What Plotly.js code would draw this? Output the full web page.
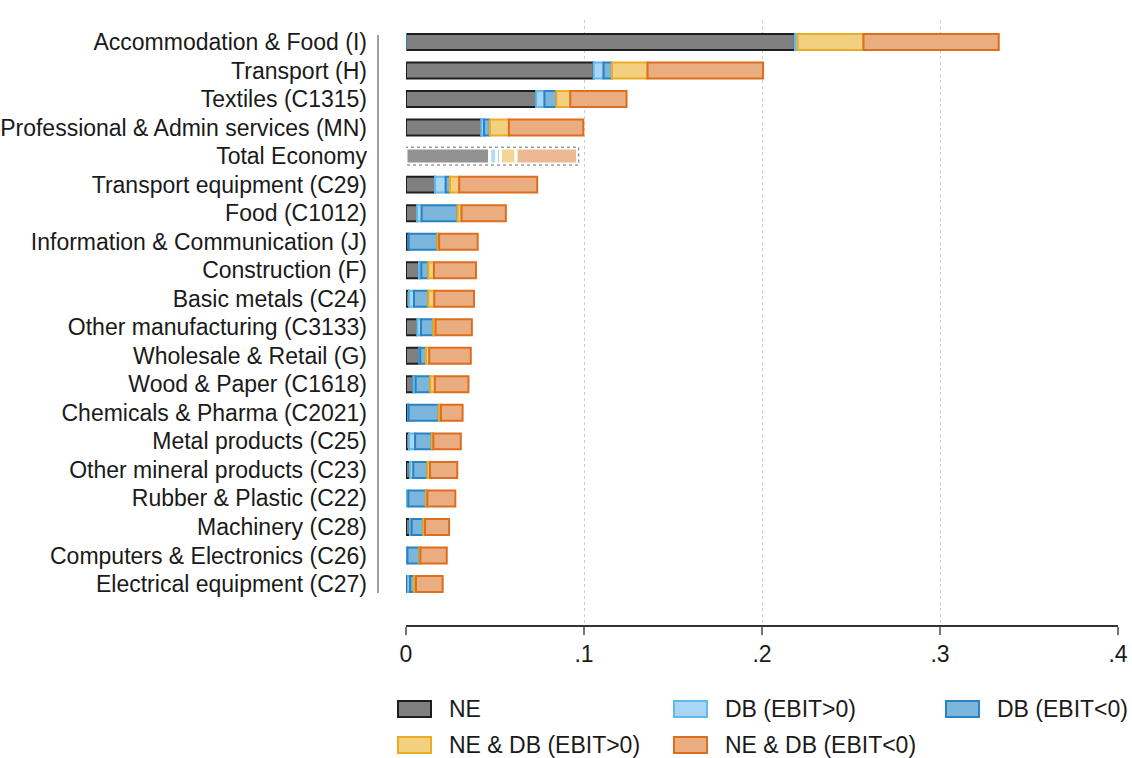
<!DOCTYPE html>
<html>
<head>
<meta charset="utf-8">
<script src="https://cdn.plot.ly/plotly-3.0.1.min.js"></script>
<style>html,body{margin:0;padding:0;background:#fff;}#chart{width:1132px;height:758px;}</style>
</head>
<body>
<div id="chart"></div>
<script>
const categories = [
  "Accommodation & Food (I)",
  "Transport (H)",
  "Textiles (C1315)",
  "Professional & Admin services (MN)",
  "Total Economy",
  "Transport equipment (C29)",
  "Food (C1012)",
  "Information & Communication (J)",
  "Construction (F)",
  "Basic metals (C24)",
  "Other manufacturing (C3133)",
  "Wholesale & Retail (G)",
  "Wood & Paper (C1618)",
  "Chemicals & Pharma (C2021)",
  "Metal products (C25)",
  "Other mineral products (C23)",
  "Rubber & Plastic (C22)",
  "Machinery (C28)",
  "Computers & Electronics (C26)",
  "Electrical equipment (C27)"
];
const NE        = [0.2185, 0.1054, 0.0731, 0.0422, 0.0470, 0.0163, 0.0062, 0.0015, 0.0073, 0.0017, 0.0063, 0.0075, 0.0041, 0.0012, 0.0017, 0.0022, 0.0000, 0.0022, 0.0000, 0.0008];
const DB_pos    = [0.0015, 0.0056, 0.0047, 0.0016, 0.0040, 0.0060, 0.0026, 0.0000, 0.0013, 0.0028, 0.0021, 0.0005, 0.0013, 0.0003, 0.0034, 0.0019, 0.0013, 0.0010, 0.0008, 0.0015];
const DB_neg    = [-0.0008, 0.0047, 0.0067, 0.0033, 0.0021, 0.0024, 0.0202, 0.0161, 0.0039, 0.0080, 0.0069, 0.0032, 0.0082, 0.0169, 0.0094, 0.0079, 0.0099, 0.0065, 0.0067, 0.0022];
const NEDB_pos  = [0.0370, 0.0200, 0.0078, 0.0107, 0.0087, 0.0052, 0.0022, 0.0010, 0.0032, 0.0034, 0.0013, 0.0019, 0.0026, 0.0012, 0.0009, 0.0015, 0.0008, 0.0010, 0.0006, 0.0011];
const NEDB_neg  = [0.0760, 0.0649, 0.0316, 0.0418, 0.0346, 0.0438, 0.0249, 0.0217, 0.0236, 0.0223, 0.0204, 0.0233, 0.0189, 0.0122, 0.0154, 0.0153, 0.0157, 0.0135, 0.0148, 0.0150];
const seriesNames = ["NE", "DB (EBIT>0)", "DB (EBIT<0)", "NE & DB (EBIT>0)", "NE & DB (EBIT<0)"];
const tickVals = [0, 0.1, 0.2, 0.3, 0.4];
const tickText = ["0", ".1", ".2", ".3", ".4"];

const seriesData = [NE, DB_pos, DB_neg, NEDB_pos, NEDB_neg];
const fills = ["#808080", "#a9d7f3", "#7db6dd", "#f2d07f", "#e9ad80"];
const lines = ["#1e1e1e", "#62b8ea", "#2783c3", "#ebac25", "#de6e1f"];
const totalIdx = categories.indexOf("Total Economy");

const traces = seriesData.map((vals, k) => ({
  type: "bar",
  orientation: "h",
  name: seriesNames[k],
  y: categories,
  x: vals,
  width: 0.56,
  showlegend: false,
  marker: {
    color: fills[k],
    opacity: categories.map((c, i) => i === totalIdx ? 0.85 : 1),
    line: {
      color: categories.map((c, i) => i === totalIdx ? "#ffffff" : lines[k]),
      width: categories.map((c, i) => i === totalIdx ? 3 : 2)
    }
  },
  hoverinfo: "x+name"
}));

const teSum = seriesData.reduce((s, arr) => s + Math.max(0, arr[totalIdx]), 0);
const nRows = categories.length;

const font = {family: "Liberation Sans, Arial, sans-serif", size: 23, color: "#1a1a1a"};

// plot area geometry (pixels)
const W = 1132, H = 758, ML = 406, MR = 14, MT = 20, MB = 133;
const PW = W - ML - MR, PH = H - MT - MB;
const px2x = p => (p - ML) / PW;
const py2y = p => (H - MB - p) / PH;

// manual legend: 3 columns, 2 rows
const legCols = [398, 674, 946];
const legRows = [709, 745];
const shapes = [
  {type: "line", xref: "paper", yref: "y",
   x0: px2x(378), x1: px2x(378), y0: -0.245, y1: nRows - 1 + 0.316,
   line: {color: "#a0a0a0", width: 2}},
  {type: "rect", xref: "x", yref: "y",
   x0: -0.0006, x1: teSum + 0.0006, y0: totalIdx - 0.31, y1: totalIdx + 0.31,
   line: {color: "#9a9a9a", width: 1.5, dash: "dot"}, fillcolor: "rgba(0,0,0,0)"}
];
const annotations = [];
seriesNames.forEach((nm, k) => {
  const c = k % 3, r = Math.floor(k / 3);
  const sx = legCols[c], sy = legRows[r];
  shapes.push({type: "rect", xref: "paper", yref: "paper",
    x0: px2x(sx), x1: px2x(sx + 33), y0: py2y(sy - 8), y1: py2y(sy + 8),
    fillcolor: fills[k], line: {color: lines[k], width: 2}});
  annotations.push({xref: "paper", yref: "paper", x: px2x(sx + 49), y: py2y(sy),
    xanchor: "left", yanchor: "middle", showarrow: false, text: nm, font: font});
});

const layout = {
  width: W, height: H,
  paper_bgcolor: "#ffffff", plot_bgcolor: "#ffffff",
  margin: {l: ML, r: MR, t: MT, b: MB},
  barmode: "relative",
  font: font,
  showlegend: false,
  xaxis: {
    range: [0, 0.4],
    tickvals: tickVals, ticktext: tickText,
    showgrid: true, gridcolor: "#cfcfcf", griddash: "dot", gridwidth: 1,
    zeroline: false,
    showline: true, linecolor: "#333333", linewidth: 1.5,
    ticks: "outside", ticklen: 8, tickcolor: "#777777", tickwidth: 1.2,
    tickfont: font,
    automargin: false,
    fixedrange: true
  },
  yaxis: {
    type: "category",
    categoryorder: "array", categoryarray: categories,
    range: [nRows - 1 + 1.437, -0.771],
    showgrid: false, zeroline: false, showline: false,
    ticks: "", ticklabelstandoff: 38,
    tickfont: font,
    automargin: false,
    fixedrange: true
  },
  shapes: shapes,
  annotations: annotations
};

Plotly.newPlot("chart", traces, layout, {staticPlot: true, displayModeBar: false});
</script>
</body>
</html>
